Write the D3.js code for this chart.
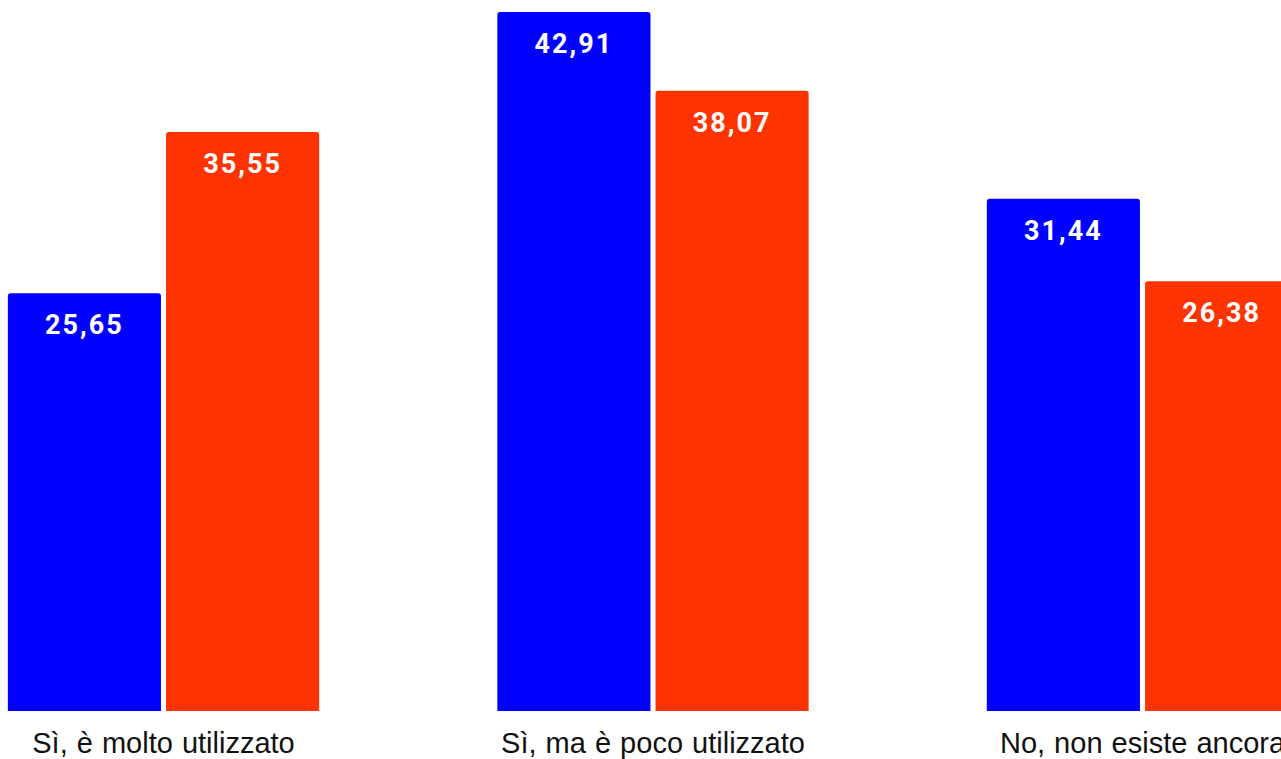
<!DOCTYPE html>
<html><head><meta charset="utf-8">
<script src="https://cdn.jsdelivr.net/npm/d3@7"></script>
<style>html,body{margin:0;padding:0;background:#fff;overflow:hidden}</style>
</head><body>
<svg id="chart" width="1281" height="759"></svg>
<script>
const categories = ["Sì, è molto utilizzato", "Sì, ma è poco utilizzato", "No, non esiste ancora"];
const seriesNames = ["A", "B"];
const seriesA = [25.65, 42.91, 31.44];
const seriesB = [35.55, 38.07, 26.38];
const colors = ["#0000ff", "#ff3300"];

const svg = d3.select("#chart");
const x0 = d3.scaleBand().domain(categories).range([-81.25, 1387.25]).paddingInner(0.364).paddingOuter(0.182);
const x1 = d3.scaleBand().domain(seriesNames).range([0, x0.bandwidth()]).paddingInner(0.032);
const y = d3.scaleLinear().domain([0, 42.91]).range([711, 12]);

const fmt = v => d3.format(".2f")(v).replace(".", ",");
const data = categories.map((c, i) => ({cat: c, vals: [seriesA[i], seriesB[i]]}));

const r = 3;
function barPath(x, yTop, w, yBot) {
  return `M${x},${yBot}V${yTop + r}Q${x},${yTop} ${x + r},${yTop}H${x + w - r}Q${x + w},${yTop} ${x + w},${yTop + r}V${yBot}Z`;
}

const g = svg.selectAll("g.grp").data(data).join("g").attr("class", "grp")
  .attr("transform", d => `translate(${x0(d.cat)},0)`);

g.selectAll("path").data(d => d.vals.map((v, j) => ({v, s: seriesNames[j], j})))
  .join("path")
  .attr("d", d => barPath(x1(d.s), y(d.v), x1.bandwidth(), y(0)))
  .attr("fill", d => colors[d.j]);

g.selectAll("text.val").data(d => d.vals.map((v, j) => ({v, s: seriesNames[j], j})))
  .join("text").attr("class", "val")
  .attr("x", d => x1(d.s) + x1.bandwidth() / 2)
  .attr("y", d => y(d.v) + 41)
  .attr("text-anchor", "middle")
  .attr("fill", "#fff")
  .style("font-family", "Roboto, sans-serif")
  .style("font-weight", "bold")
  .style("font-size", "27px")
  .style("letter-spacing", "2px")
  .text(d => fmt(d.v));

svg.selectAll("text.cat").data(categories).join("text").attr("class", "cat")
  .attr("x", d => x0(d) + x0.bandwidth() / 2)
  .attr("y", 753)
  .attr("text-anchor", "middle")
  .attr("fill", "#111")
  .style("font-family", "'Liberation Sans', Arial, sans-serif")
  .style("font-size", "29px")
  .style("word-spacing", "1px")
  .text(d => d);
</script>
</body></html>
